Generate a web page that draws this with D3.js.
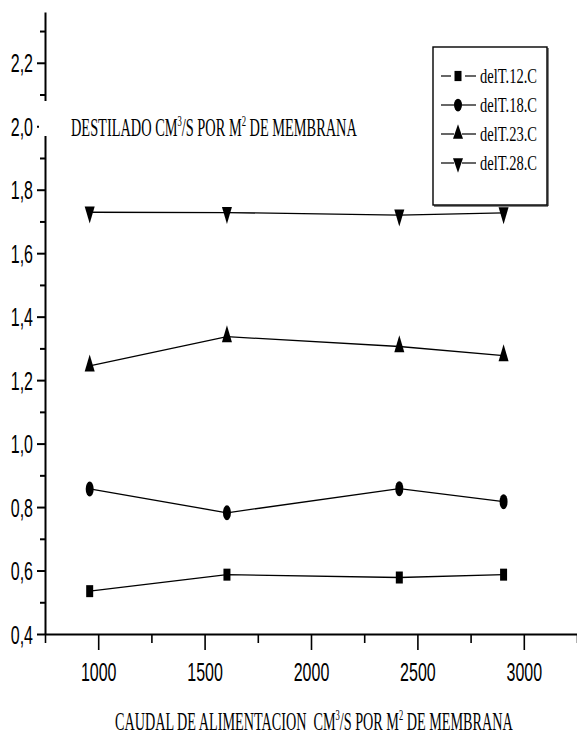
<!DOCTYPE html>
<html>
<head>
<meta charset="utf-8">
<script src="https://cdn.jsdelivr.net/npm/d3@7/dist/d3.min.js"></script>
<style>
  html, body { margin: 0; padding: 0; background: #fff; }
  svg { display: block; }
  text { white-space: pre; }
</style>
</head>
<body>
<svg id="chart" width="577" height="735"></svg>
<script>
// ---------------- DATA ----------------
const xValues = [960, 1605, 2415, 2905];
const seriesNames = ["delT.12.C", "delT.18.C", "delT.23.C", "delT.28.C"];
const seriesMarkers = ["square", "circle", "triangleUp", "triangleDown"];
const dT12 = [0.535, 0.587, 0.578, 0.587];
const dT18 = [0.857, 0.782, 0.858, 0.817];
const dT23 = [1.245, 1.337, 1.306, 1.277];
const dT28 = [1.729, 1.728, 1.720, 1.727];
const yMajorTicks = [0.4, 0.6, 0.8, 1.0, 1.2, 1.4, 1.6, 1.8, 2.0, 2.2];
const yMinorTicks = [0.5, 0.7, 0.9, 1.1, 1.3, 1.5, 1.7, 1.9, 2.1, 2.3];
const xMajorTicks = [1000, 1500, 2000, 2500, 3000];
const xMinorTicks = [750, 1250, 1750, 2250, 2750, 3250];
const yLabelParts = [["DESTILADO CM", ""], ["3", "sup"], ["/S POR M", ""], ["2", "sup"], [" DE MEMBRANA", ""]];
const xLabelParts = [["CAUDAL DE ALIMENTACION  CM", ""], ["3", "sup"], ["/S POR M", ""], ["2", "sup"], [" DE MEMBRANA", ""]];

const seriesValues = [dT12, dT18, dT23, dT28];

// ---------------- LAYOUT ----------------
const svg = d3.select("#chart");
svg.append("rect").attr("width", 577).attr("height", 735).attr("fill", "#fff");

const x = d3.scaleLinear().domain([750, 3250]).range([45, 577]);
const y = d3.scaleLinear().domain([0.4, 2.36]).range([634, 12]);

const SANS = "Liberation Sans";
const SERIF = "Liberation Serif";
const TICK_SX = 0.64;
const fmt = d => d3.format(".1f")(d).replace(".", ",");

// ---- Y axis ----
const gy = svg.append("g").attr("transform", `translate(${x(750)},0)`);
gy.call(d3.axisLeft(y).tickValues(yMajorTicks).tickSize(8).tickSizeOuter(0).tickFormat(fmt));
gy.select(".domain").attr("stroke-width", 2);
gy.selectAll(".tick line").attr("stroke-width", 2);
gy.selectAll(".tick text")
  .attr("font-family", SANS).attr("font-size", 25).attr("fill", "#000")
  .attr("x", -12 / TICK_SX).attr("dy", "0.36em")
  .attr("transform", `scale(${TICK_SX},1)`);
const gyMinor = svg.append("g").attr("transform", `translate(${x(750)},0)`);
gyMinor.call(d3.axisLeft(y).tickValues(yMinorTicks).tickSize(5).tickSizeOuter(0).tickFormat(""));
gyMinor.select(".domain").remove();
gyMinor.selectAll(".tick line").attr("stroke-width", 2);

// ---- X axis ----
const gx = svg.append("g").attr("transform", `translate(0,${y(0.4)})`);
gx.call(d3.axisBottom(x).tickValues(xMajorTicks).tickSize(16).tickSizeOuter(0).tickFormat(d => String(d)));
gx.select(".domain").attr("stroke-width", 2);
gx.selectAll(".tick line").attr("stroke-width", 1.6);
gx.selectAll(".tick text")
  .attr("font-family", SANS).attr("font-size", 25).attr("fill", "#000")
  .attr("y", 47).attr("dy", 0)
  .attr("transform", `scale(${TICK_SX},1)`)
  .attr("x", 0);
const gxMinor = svg.append("g").attr("transform", `translate(0,${y(0.4)})`);
gxMinor.call(d3.axisBottom(x).tickValues(xMinorTicks).tickSize(9).tickSizeOuter(0).tickFormat(""));
gxMinor.select(".domain").remove();
gxMinor.selectAll(".tick line").attr("stroke-width", 1.6);

// ---- text helper (condensed by measured fit) ----
function fitText(parent, parts, x0, baseline, size, family, targetWidth) {
  const g = parent.append("g");
  const t = g.append("text").attr("font-family", family).attr("font-size", size).attr("fill", "#000")
    .attr("xml:space", "preserve");
  let prevSup = false;
  parts.forEach(([s, kind]) => {
    const ts = t.append("tspan").text(s);
    if (kind === "sup") ts.attr("font-size", size * 0.6).attr("dy", -size * 0.4);
    else if (prevSup) ts.attr("dy", size * 0.4);
    prevSup = kind === "sup";
  });
  const w = t.node().getBBox().width;
  const sx = targetWidth / w;
  g.attr("transform", `translate(${x0},${baseline}) scale(${sx},1)`);
  return g;
}

// ---- Y label with white background (interrupts axis) ----
svg.append("rect").attr("x", 39).attr("y", 101).attr("width", 328).attr("height", 35).attr("fill", "#fff");
fitText(svg, yLabelParts, 71, 136, 26, SERIF, 286);

// ---- X label ----
fitText(svg, xLabelParts, 115, 730, 26, SERIF, 398);

// ---- markers ----
function markerPath(type, cx, cy, k) {
  if (type === "square") {
    const w = 7, h = 12 * k;
    return `M${cx - w / 2},${cy - h / 2}h${w}v${h}h${-w}Z`;
  }
  if (type === "circle") {
    const rx = 4, ry = 7.5 * k;
    return `M${cx - rx},${cy}a${rx},${ry} 0 1,0 ${2 * rx},0a${rx},${ry} 0 1,0 ${-2 * rx},0Z`;
  }
  const w = 10, h = 17 * k;
  if (type === "triangleUp") {
    return `M${cx},${cy - 2 * h / 3}L${cx + w / 2},${cy + h / 3}L${cx - w / 2},${cy + h / 3}Z`;
  }
  return `M${cx - w / 2},${cy - h / 3}L${cx + w / 2},${cy - h / 3}L${cx},${cy + 2 * h / 3}Z`;
}

// ---- Legend ----
const legend = svg.append("g");
legend.append("rect").attr("x", 433).attr("y", 47).attr("width", 114).attr("height", 158)
  .attr("fill", "#fff").attr("stroke", "#000").attr("stroke-width", 1.4);
// slight drop shadow on right / bottom edges
legend.append("path").attr("d", "M548,48V206H434").attr("fill", "none").attr("stroke", "#000").attr("stroke-width", 1);
const legendRows = [76, 105, 134, 163];
seriesNames.forEach((name, i) => {
  const cy = legendRows[i];
  const gap = i === 0 ? 7 : 4;
  legend.append("line").attr("x1", 441).attr("x2", 458 - gap).attr("y1", cy).attr("y2", cy)
    .attr("stroke", "#000").attr("stroke-width", 1.2);
  legend.append("line").attr("x1", 458 + gap).attr("x2", 476).attr("y1", cy).attr("y2", cy)
    .attr("stroke", "#000").attr("stroke-width", 1.2);
  legend.append("path").attr("d", markerPath(seriesMarkers[i], 458, cy, 0.85)).attr("fill", "#000");
  fitText(legend, [[name, ""]], 480, cy + 7, 22, SERIF, 57);
});

// ---- Series ----
const line = d3.line().x((d, i) => x(xValues[i])).y(d => y(d));
seriesValues.forEach((vals, si) => {
  svg.append("path").datum(vals).attr("d", line)
    .attr("fill", "none").attr("stroke", "#000").attr("stroke-width", 1.3);
  svg.append("g").selectAll("path").data(vals).join("path")
    .attr("d", (d, i) => markerPath(seriesMarkers[si], x(xValues[i]), y(d), 1))
    .attr("fill", "#000");
});
</script>
</body>
</html>
